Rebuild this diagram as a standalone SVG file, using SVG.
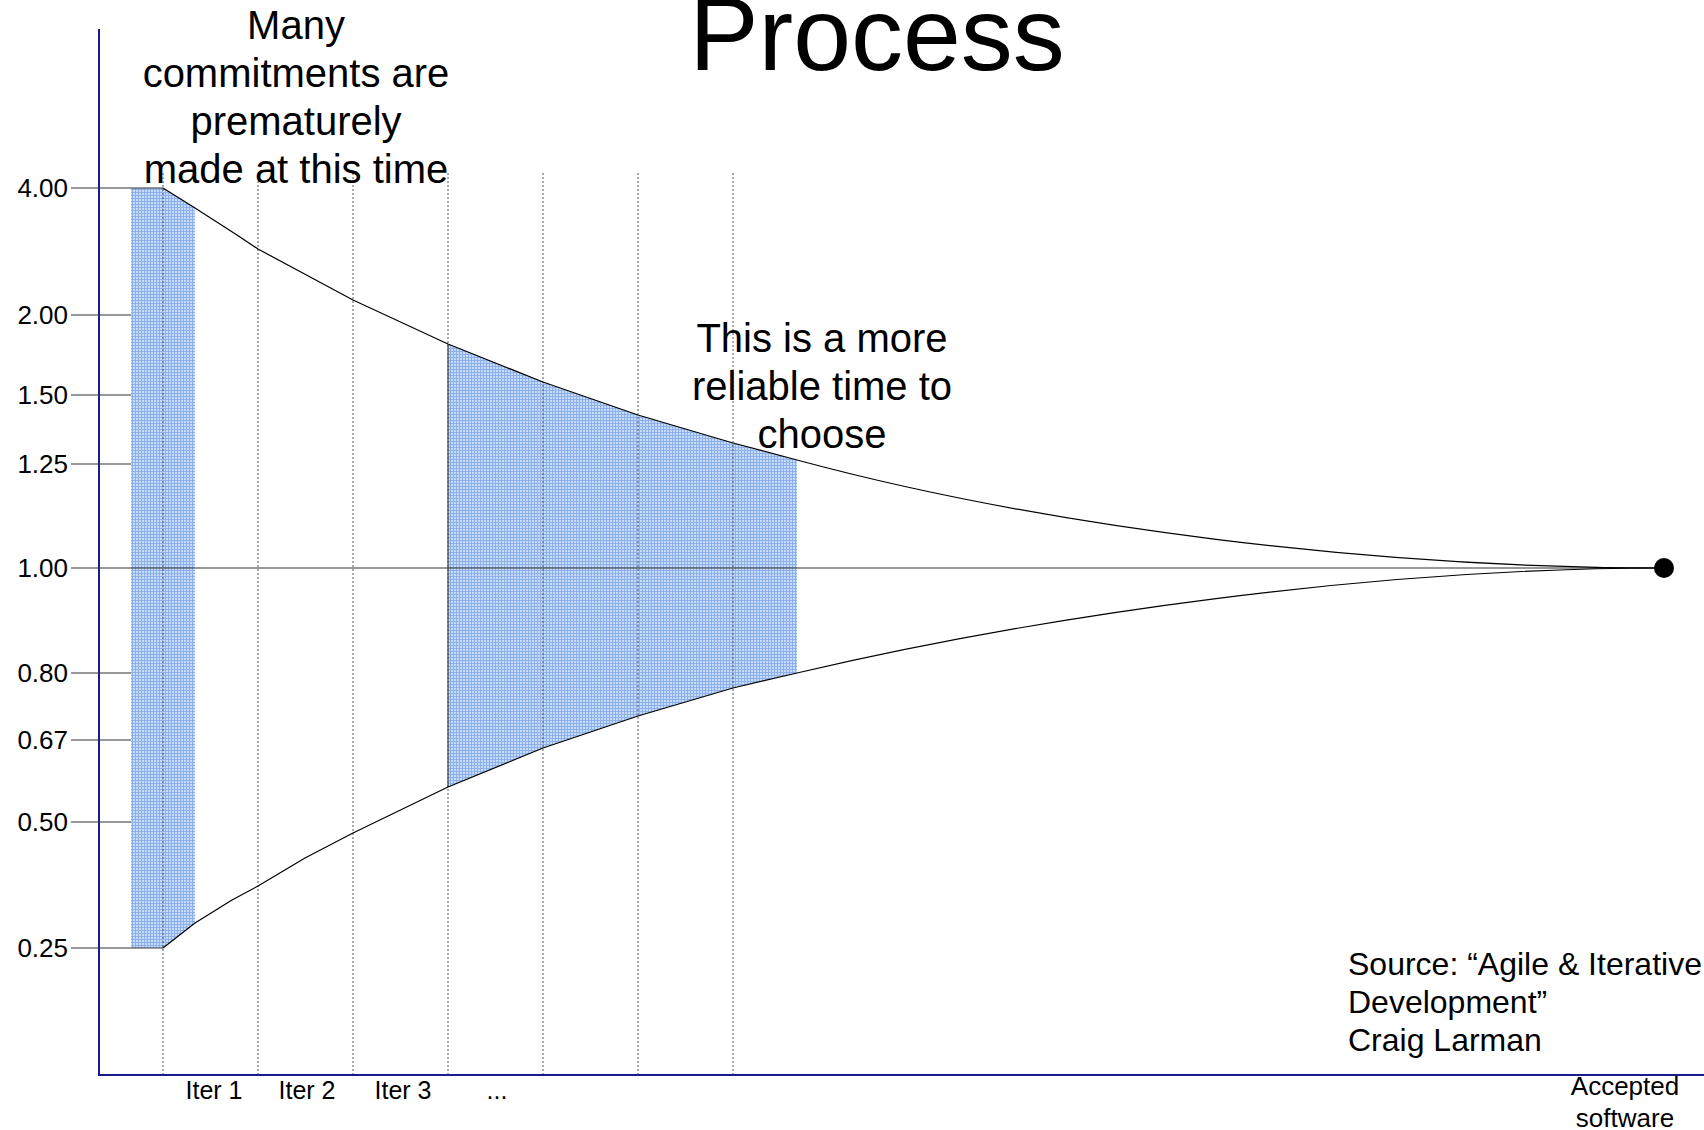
<svg xmlns="http://www.w3.org/2000/svg" width="1704" height="1130" viewBox="0 0 1704 1130">
<style>
text{font-family:"Liberation Sans",Arial,sans-serif;fill:#000}
.tick{stroke:#333;stroke-width:1.2;fill:none}
.lbl{font-size:26px;text-anchor:end}
.dash{stroke:#555;stroke-width:1;stroke-dasharray:2 2;fill:none}
.axis{stroke:#1a1a8c;stroke-width:2;fill:none}
.curve{stroke:#000;stroke-width:1.2;fill:none;stroke-linejoin:round}
.big{font-size:40px;text-anchor:middle}
.iter{font-size:25px;text-anchor:middle}
</style>
<defs>
<pattern id="grid" width="3" height="3" patternUnits="userSpaceOnUse">
<rect width="3" height="3" fill="#c8dbf6"/>
<path d="M0 0.5H3M0.5 0V3" stroke="#8cb0ea" stroke-width="1"/>
</pattern>
</defs>
<rect width="1704" height="1130" fill="#fff"/>
<g id="shading">
<polygon points="131,188 163,188 195,208 195,923 163,948 131,948" fill="url(#grid)"/>
<polygon points="448,344 543,382 638,415 733,443 797,460 797,673 733,688 638,716 543,748 448,787" fill="url(#grid)"/>
<line x1="448" y1="344" x2="448" y2="787" stroke="#444" stroke-width="1.2"/>
</g>
<g id="grid-lines">
<line class="dash" x1="163" y1="173" x2="163" y2="1075"/>
<line class="dash" x1="258" y1="173" x2="258" y2="1075"/>
<line class="dash" x1="353" y1="173" x2="353" y2="1075"/>
<line class="dash" x1="448" y1="173" x2="448" y2="1075"/>
<line class="dash" x1="543" y1="173" x2="543" y2="1075"/>
<line class="dash" x1="638" y1="173" x2="638" y2="1075"/>
<line class="dash" x1="733" y1="173" x2="733" y2="1075"/>
</g>
<g id="y-axis">
<line class="axis" x1="99" y1="29" x2="99" y2="1076"/>
<line class="tick" x1="71" y1="188" x2="163" y2="188"/>
<line class="tick" x1="71" y1="315" x2="131" y2="315"/>
<line class="tick" x1="71" y1="395" x2="131" y2="395"/>
<line class="tick" x1="71" y1="464" x2="131" y2="464"/>
<line class="tick" x1="71" y1="568" x2="1665" y2="568"/>
<line class="tick" x1="71" y1="673" x2="131" y2="673"/>
<line class="tick" x1="71" y1="740" x2="131" y2="740"/>
<line class="tick" x1="71" y1="822" x2="131" y2="822"/>
<line class="tick" x1="71" y1="948" x2="163" y2="948"/>
<text class="lbl" x="68" y="197">4.00</text>
<text class="lbl" x="68" y="324">2.00</text>
<text class="lbl" x="68" y="404">1.50</text>
<text class="lbl" x="68" y="473">1.25</text>
<text class="lbl" x="68" y="577">1.00</text>
<text class="lbl" x="68" y="682">0.80</text>
<text class="lbl" x="68" y="749">0.67</text>
<text class="lbl" x="68" y="831">0.50</text>
<text class="lbl" x="68" y="957">0.25</text>
</g>
<g id="x-axis">
<line class="axis" x1="98" y1="1075" x2="1704" y2="1075"/>
<text class="iter" x="214" y="1099">Iter 1</text>
<text class="iter" x="307" y="1099">Iter 2</text>
<text class="iter" x="403" y="1099">Iter 3</text>
<text class="iter" x="497" y="1099">...</text>
<text class="iter" x="1625" y="1095" style="font-size:26px">Accepted</text>
<text class="iter" x="1625" y="1127" style="font-size:26px">software</text>
</g>
<g id="connectors">
<path class="curve" d="M163,188 L195,208 L237,235 L258,249 L353,300 L448,344 L543,382 L638,415 L733,443 L797,460 C1047,527.5 1375,568 1665,568"/>
<path class="curve" d="M163,948 L195,923 L232,900 L258,886 L305,858 L353,833 L448,787 L543,748 L638,716 L733,688 L797,673 C1047,614.5 1375,568 1665,568"/>
</g>
<g id="end-point">
<circle cx="1664" cy="568" r="10" fill="#000"/>
</g>
<g id="title">
<text x="877" y="70" style="font-size:104px;text-anchor:middle">Process</text>
</g>
<g id="note-early">
<text class="big" x="296" y="39">Many</text>
<text class="big" x="296" y="87">commitments are</text>
<text class="big" x="296" y="135">prematurely</text>
<text class="big" x="296" y="183">made at this time</text>
</g>
<g id="note-reliable">
<text class="big" x="822" y="352">This is a more</text>
<text class="big" x="822" y="400">reliable time to</text>
<text class="big" x="822" y="448">choose</text>
</g>
<g id="source">
<text x="1348" y="975" style="font-size:32px">Source: “Agile &amp; Iterative</text>
<text x="1348" y="1013" style="font-size:32px">Development”</text>
<text x="1348" y="1051" style="font-size:32px">Craig Larman</text>
</g>
</svg>
